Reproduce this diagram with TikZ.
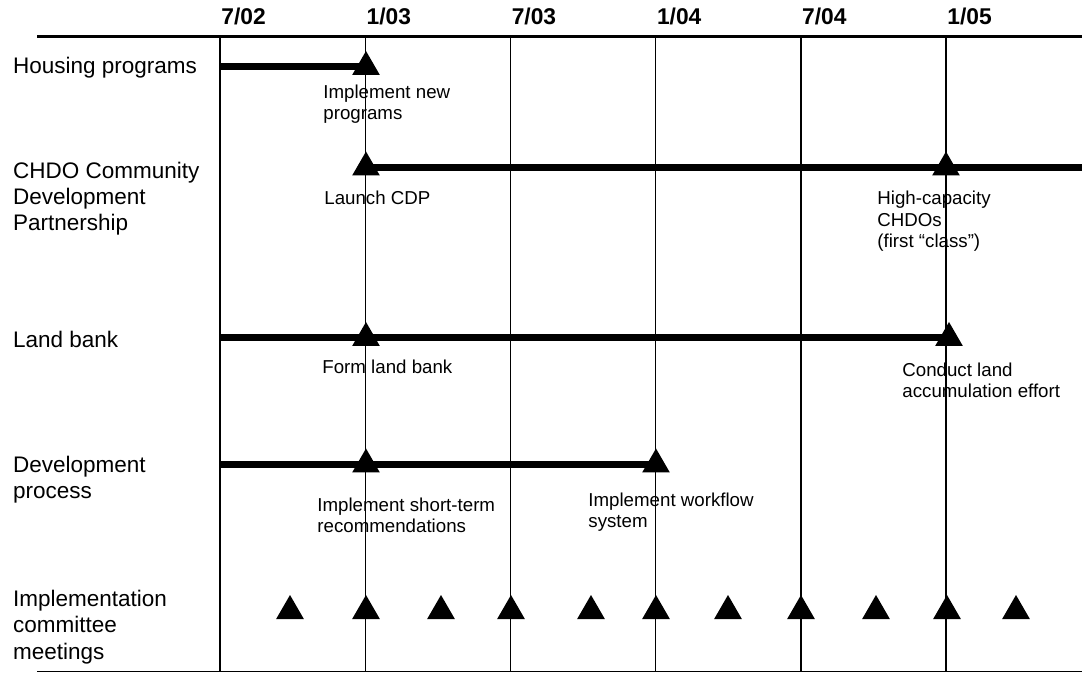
\documentclass[tikz,border=0pt]{standalone}
\usepackage{fontspec}
\setmainfont{Liberation Sans}
\usetikzlibrary{shapes.geometric}

\tikzset{
  rowlabel/.style={anchor=base west, align=left, inner sep=0pt, font=\fontsize{11.25}{13.15}\selectfont},
  notelabel/.style={anchor=base west, align=left, inner sep=0pt, font=\fontsize{9.35}{10.75}\selectfont},
  datelabel/.style={anchor=base west, inner sep=0pt, font=\fontsize{11.4}{13}\selectfont\bfseries},
  milestone/.style={regular polygon, regular polygon sides=3, fill=black, inner sep=0pt, minimum size=16pt},
  bar/.style={line width=3.5pt},
  gridline/.style={line width=0.7pt, black},
}

\begin{document}
\begin{tikzpicture}[x=0.5pt, y=-0.5pt]
  % Define parameters
  \def\xStart{220}     % date line of 7/02
  \def\colW{145.2}     % six months
  \def\yTop{36.7}      % top rule
  \def\yBot{671.5}     % bottom rule
  \def\xLabel{12.7}    % left edge of row labels
  % (multi-line texts are placed at the baseline of their last line)

  \useasboundingbox (0,0) rectangle (1082,673);

  % Draw rules
  \draw[line width=1.3pt] (37,\yTop) -- (1082,\yTop);
  \draw[line width=0.8pt] (37,\yBot) -- (1082,\yBot);

  % Draw date lines
  \foreach \m/\yr [count=\i from 0] in {7/02, 1/03, 7/03, 1/04, 7/04, 1/05} {
      \draw[gridline] (\xStart + \i*\colW, \yTop) -- (\xStart + \i*\colW, \yBot);
      \node[datelabel] (date\i) at (\xStart + \i*\colW + 1, 25) {\m/\yr};
  }

  % Housing programs
  \node[rowlabel] (housing) at (\xLabel, 74) {Housing programs};
  \coordinate (hpStart) at (\xStart, 67);
  \node[milestone] (hpNew) at (366, 67) {};
  \draw[bar] (hpStart) -- (hpNew.center);
  \node[notelabel] (hpNewText) at (323, 120) {Implement new\\programs};

  % CHDO Community Development Partnership
  \node[rowlabel] (chdo) at (\xLabel, 230.7) {CHDO Community\\Development\\Partnership};
  \node[milestone] (cdpLaunch) at (366, 167.5) {};
  \node[milestone] (cdpClass) at (946, 167.5) {};
  \coordinate (cdpEnd) at (1082, 167.5);
  \draw[bar] (cdpLaunch.center) -- (cdpEnd);
  \node[notelabel] (cdpLaunchText) at (324, 205) {Launch CDP};
  \node[notelabel] (cdpClassText) at (877, 248) {High-capacity\\CHDOs\\(first “class”)};

  % Land bank
  \node[rowlabel] (landbank) at (\xLabel, 348) {Land bank};
  \coordinate (lbStart) at (\xStart, 338);
  \node[milestone] (lbForm) at (366, 338) {};
  \node[milestone] (lbAccum) at (949, 338) {};
  \draw[bar] (lbStart) -- (lbAccum.center);
  \node[notelabel] (lbFormText) at (322, 374) {Form land bank};
  \node[notelabel] (lbAccumText) at (902, 397.7) {Conduct land\\accumulation effort};

  % Development process
  \node[rowlabel] (devproc) at (\xLabel, 499) {Development\\process};
  \coordinate (dpStart) at (\xStart, 464.5);
  \node[milestone] (dpShort) at (366, 464.5) {};
  \node[milestone] (dpWork) at (656, 464.5) {};
  \draw[bar] (dpStart) -- (dpWork.center);
  \node[notelabel] (dpShortText) at (317, 532.7) {Implement short-term\\recommendations};
  \node[notelabel] (dpWorkText) at (588, 528) {Implement workflow\\system};

  % Implementation committee meetings
  \node[rowlabel] (meetings) at (\xLabel, 659) {Implementation\\committee\\meetings};
  \foreach \x [count=\k] in {290, 366, 441, 511, 591, 656, 728, 801, 876, 947, 1016} {
      \node[milestone] (meet\k) at (\x, 611) {};
  }
\end{tikzpicture}
\end{document}
